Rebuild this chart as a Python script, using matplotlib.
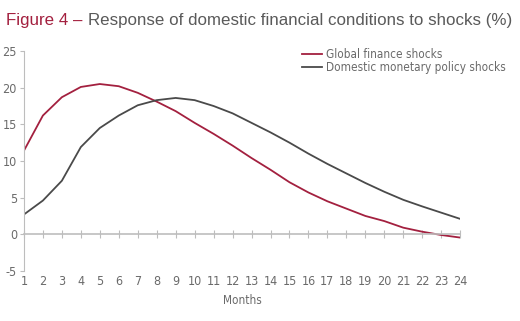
import matplotlib.pyplot as plt

# Months after the shock and the response of financial conditions (%)
months = list(range(1, 25))
global_finance = [11.4, 16.2, 18.7, 20.1, 20.5, 20.2, 19.3, 18.1, 16.8, 15.2, 13.7, 12.1,
                  10.4, 8.8, 7.1, 5.7, 4.5, 3.5, 2.5, 1.8, 0.9, 0.35, -0.1, -0.45]
domestic_policy = [2.7, 4.6, 7.3, 11.9, 14.5, 16.2, 17.6, 18.3, 18.6, 18.3, 17.5, 16.5,
                   15.2, 13.9, 12.5, 11.0, 9.6, 8.3, 7.0, 5.8, 4.7, 3.8, 2.95, 2.1]
y_ticks = [-5, 0, 5, 10, 15, 20, 25]

plt.rcParams["axes.unicode_minus"] = False

red = "#a3203f"
dark = "#4a4a4a"
grey_text = "#6a6a6a"
axis_grey = "#bdbdbd"
narrow = dict(family="DejaVu Sans", stretch="condensed")

fig = plt.figure(figsize=(5.2, 3.21), dpi=100)
ax = fig.add_axes([0.046, 0.156, 0.839, 0.685])

ax.plot(months, global_finance, color=red, lw=1.3, label="Global finance shocks")
ax.plot(months, domestic_policy, color=dark, lw=1.3, label="Domestic monetary policy shocks")

ax.set_xlim(1, 24)
ax.set_ylim(-5, 25)
ax.set_yticks(y_ticks)

for side in ["top", "right"]:
    ax.spines[side].set_visible(False)
ax.spines["left"].set_color(axis_grey)
ax.spines["bottom"].set_position(("data", 0))
ax.spines["bottom"].set_color(axis_grey)
ax.spines["bottom"].set_linewidth(1.2)

ax.set_xticks(months)
ax.tick_params(axis="x", direction="inout", length=6, color=axis_grey, labelbottom=False)
ax.tick_params(axis="y", direction="out", length=3, color=axis_grey, pad=2,
               labelcolor=grey_text, labelsize=9)
for lab in ax.get_yticklabels():
    lab.set(**narrow)

# month labels sit along the bottom edge, not on the zero line
sec = ax.secondary_xaxis(0)
sec.set_xticks(months)
sec.spines["bottom"].set_visible(False)
sec.tick_params(length=0, pad=3, labelcolor=grey_text, labelsize=9)
for lab in sec.get_xticklabels():
    lab.set(**narrow)
sec.set_xlabel("Months", color=grey_text, fontsize=8.5, labelpad=4, **narrow)

leg = ax.legend(loc="upper left", bbox_to_anchor=(0.612, 1.06), frameon=False,
                handlelength=1.7, handletextpad=0.4, labelspacing=0.0,
                prop=dict(size=8.5, **narrow))
for t in leg.get_texts():
    t.set_color(grey_text)

fig.text(6 / 520, 0.935, "Figure 4 \u2013", color=red, fontsize=12.2, va="center",
         family="Liberation Sans")
fig.text(88 / 520, 0.935, "Response of domestic financial conditions to shocks (%)",
         color="#5a5a5a", fontsize=12.2, va="center", family="Liberation Sans")

fig.savefig("out.png", dpi=100)
